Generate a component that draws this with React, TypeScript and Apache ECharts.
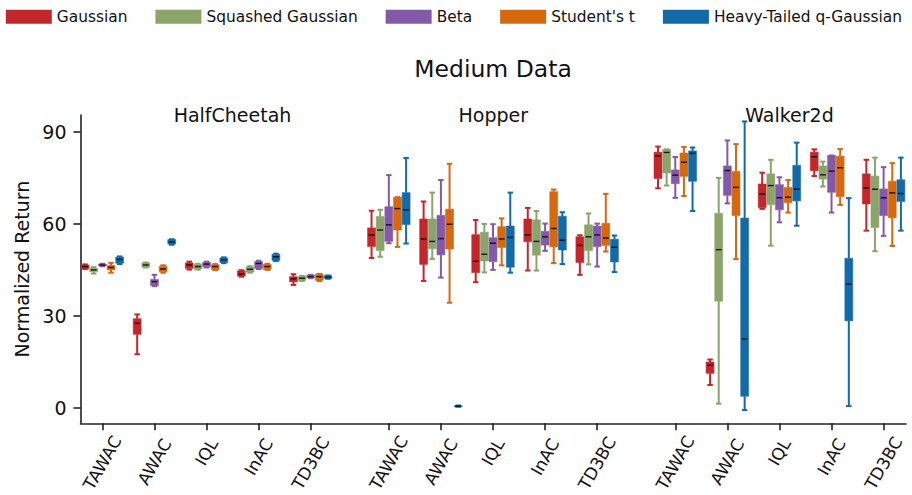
import React, { useEffect, useRef } from "react";
import * as echarts from "echarts";

// ---------- data ----------
const envNames = ["HalfCheetah", "Hopper", "Walker2d"];
const algorithms = ["TAWAC", "AWAC", "IQL", "InAC", "TD3BC"];
const distributions = ["Gaussian", "Squashed Gaussian", "Beta", "Student's t", "Heavy-Tailed q-Gaussian"];
const yTicks = [0, 30, 60, 90];

// each entry: [min, q1, median, q3, max]; order: HalfCheetah x5 algs, Hopper x5, Walker2d x5
const gaussian = [
  [45.2, 45.3, 46.0, 46.5, 46.7], [17.4, 23.9, 27.5, 29.0, 30.4], [45.0, 45.4, 46.5, 47.2, 47.6], [42.7, 42.9, 43.5, 44.6, 44.8], [40.0, 41.0, 42.0, 42.7, 43.5],
  [48.8, 52.5, 56.3, 58.6, 64.2], [41.3, 46.7, 55.0, 61.5, 67.2], [40.9, 44.0, 47.7, 56.4, 61.2], [44.7, 54.1, 56.3, 61.5, 65.1], [43.3, 47.3, 52.9, 55.7, 56.2],
  [71.5, 74.7, 82.1, 83.3, 85.1], [7.4, 11.2, 13.8, 14.9, 15.7], [64.8, 65.2, 69.6, 72.9, 76.6], [75.5, 77.2, 81.8, 83.3, 84.2], [57.7, 66.4, 71.6, 76.2, 80.8],
];
const squashedGaussian = [
  [43.7, 44.3, 44.9, 45.4, 45.8], [45.7, 45.8, 46.5, 47.2, 47.3], [45.0, 45.2, 46.0, 46.7, 46.9], [44.0, 44.2, 45.1, 45.9, 46.1], [41.3, 41.5, 42.2, 42.7, 42.9],
  [49.2, 51.2, 57.9, 62.3, 64.5], [48.5, 51.8, 54.2, 61.5, 70.1], [44.1, 47.8, 50.0, 57.2, 59.9], [44.7, 49.7, 54.2, 61.2, 64.1], [46.7, 51.2, 55.7, 59.6, 63.3],
  [72.4, 76.5, 83.2, 84.2, 84.2], [1.3, 34.7, 51.5, 63.3, 74.9], [52.8, 66.2, 72.4, 76.2, 80.8], [72.1, 74.5, 75.9, 78.8, 80.2], [51.0, 58.7, 71.2, 75.5, 81.5],
];
const beta = [
  [46.1, 46.2, 46.5, 46.8, 46.9], [39.6, 39.8, 41.1, 41.8, 43.3], [45.7, 45.9, 46.8, 47.4, 47.6], [45.2, 45.4, 47.0, 47.7, 47.9], [42.2, 42.3, 42.7, 43.2, 43.3],
  [53.6, 54.2, 59.6, 65.5, 75.8], [42.4, 49.8, 55.1, 62.7, 74.2], [44.9, 47.6, 53.6, 55.4, 59.8], [51.1, 53.0, 55.7, 57.5, 60.0], [46.0, 52.5, 56.3, 59.2, 60.0],
  [68.4, 73.0, 75.8, 77.5, 81.7], [66.6, 69.2, 77.3, 78.8, 87.1], [60.4, 64.5, 68.4, 72.7, 75.1], [63.6, 70.2, 77.1, 82.2, 82.2], [56.0, 62.6, 68.4, 71.3, 78.4],
];
const studentT = [
  [44.0, 44.9, 45.7, 46.4, 47.2], [44.0, 44.3, 45.2, 46.1, 46.4], [44.8, 45.0, 46.0, 46.6, 46.8], [44.9, 45.1, 46.0, 46.7, 46.9], [41.3, 41.5, 42.7, 43.5, 43.6],
  [52.4, 57.9, 64.9, 68.6, 68.6], [34.2, 51.7, 59.8, 64.7, 79.5], [46.4, 52.2, 55.0, 59.0, 61.7], [47.1, 52.4, 58.4, 70.4, 71.1], [50.9, 52.9, 55.3, 60.1, 69.7],
  [69.0, 75.4, 80.0, 83.0, 85.0], [48.4, 62.6, 71.8, 77.0, 85.9], [63.6, 66.8, 68.6, 71.8, 74.2], [66.1, 68.8, 78.2, 82.0, 84.3], [52.7, 61.9, 70.0, 73.8, 79.7],
];
const qGaussian = [
  [46.8, 47.1, 48.3, 49.1, 49.3], [53.1, 53.3, 54.0, 54.8, 54.9], [47.1, 47.3, 48.2, 48.8, 49.0], [47.8, 48.0, 49.2, 50.0, 50.2], [42.0, 42.1, 42.5, 43.0, 43.1],
  [53.5, 59.7, 64.5, 70.1, 81.4], [0.3, 0.4, 0.5, 0.6, 0.7], [44.0, 45.8, 55.5, 59.2, 70.1], [46.8, 51.4, 54.6, 62.4, 63.7], [44.2, 47.5, 52.3, 54.9, 56.1],
  [64.1, 73.8, 82.9, 83.7, 84.8], [-0.8, 3.7, 22.4, 61.8, 93.3], [59.3, 67.4, 71.2, 79.0, 86.4], [0.5, 28.3, 40.2, 48.7, 68.3], [57.7, 67.2, 69.8, 74.3, 81.5],
];
const seriesData = [gaussian, squashedGaussian, beta, studentT, qGaussian];

// ---------- styling / layout ----------
const COLORS = ["#C3272B", "#8AA46A", "#8559A9", "#D6680E", "#136AA9"];
const FONT = "DejaVu Sans";
const TEXT = "#111111";
const AXIS = "#222222";
const GROUP_STEP = 5.5;
const DODGE = 0.166;
const BOX_W = 0.152;
const CAP_W = 0.105;
const LABEL_MARGINS = [39.5, 38.5, 28.7, 33.6, 39.8];

const groupPos = (i: number) => Math.floor(i / 5) * GROUP_STEP + (i % 5);
const tickPositions = Array.from({ length: 15 }, (_, i) => groupPos(i));

function hexToRgba(hex: string, a: number) {
  const n = parseInt(hex.slice(1), 16);
  return `rgba(${(n >> 16) & 255},${(n >> 8) & 255},${n & 255},${a})`;
}

export default function App() {
  const ref = useRef<HTMLDivElement>(null);
  useEffect(() => {
    if (!ref.current) return;
    const chart = echarts.init(ref.current, undefined, { renderer: "svg" });

    const series = distributions.map((name, s) => ({
      name,
      type: "custom",
      itemStyle: { color: COLORS[s] },
      encode: { x: 0, y: [1, 2, 3, 4, 5] },
      clip: false,
      data: seriesData[s].map((d, i) => [groupPos(i) + (s - 2) * DODGE, ...d]),
      renderItem: (params: any, api: any) => {
        const x = api.value(0);
        const lo = api.coord([x, api.value(1)]);
        const q1 = api.coord([x, api.value(2)]);
        const med = api.coord([x, api.value(3)]);
        const q3 = api.coord([x, api.value(4)]);
        const hi = api.coord([x, api.value(5)]);
        const cx = lo[0];
        const hw = api.size([BOX_W, 0])[0] / 2;
        const cw = api.size([CAP_W, 0])[0] / 2;
        const color = COLORS[s];
        const lineStyle = { stroke: color, lineWidth: 2 };
        return {
          type: "group",
          children: [
            { type: "line", shape: { x1: cx, y1: hi[1], x2: cx, y2: q3[1] }, style: lineStyle },
            { type: "line", shape: { x1: cx, y1: q1[1], x2: cx, y2: lo[1] }, style: lineStyle },
            { type: "line", shape: { x1: cx - cw, y1: hi[1], x2: cx + cw, y2: hi[1] }, style: lineStyle },
            { type: "line", shape: { x1: cx - cw, y1: lo[1], x2: cx + cw, y2: lo[1] }, style: lineStyle },
            {
              type: "rect",
              shape: { x: cx - hw, y: q3[1], width: hw * 2, height: Math.max(q1[1] - q3[1], 1) },
              style: { fill: color, stroke: hexToRgba(color, 0.55), lineWidth: 1 },
            },
            {
              type: "line",
              shape: { x1: cx - hw + 1, y1: med[1], x2: cx + hw - 1, y2: med[1] },
              style: { stroke: "rgba(0,0,0,0.85)", lineWidth: 1.4 },
            },
          ],
        };
      },
    }));

    const xMin = -0.42;
    const xMax = 15.43;

    const labelAxes = algorithms.map((alg, a) => ({
      type: "value",
      gridIndex: 0,
      position: "bottom",
      min: xMin,
      max: xMax,
      axisLine: { show: false, onZero: false },
      axisTick: { show: false },
      splitLine: { show: false },
      axisLabel: {
        show: true,
        customValues: envNames.map((_, e) => e * GROUP_STEP + a),
        formatter: () => alg,
        rotate: 60,
        align: "center",
        verticalAlign: "middle",
        margin: LABEL_MARGINS[a],
        fontSize: 17,
        fontFamily: FONT,
        color: TEXT,
      },
    }));

    const envCenters = [232.5, 493.3, 789.5];

    chart.setOption({
      animation: false,
      color: COLORS,
      textStyle: { fontFamily: FONT },
      title: [
        {
          text: "Medium Data",
          left: 493,
          top: 56.5,
          padding: 0,
          textAlign: "center",
          textStyle: { fontSize: 23.5, fontWeight: "normal", fontFamily: FONT, color: TEXT },
        },
        ...envNames.map((env, e) => ({
          text: env,
          left: envCenters[e],
          top: 105.5,
          padding: 0,
          textAlign: "center",
          textStyle: { fontSize: 19, fontWeight: "normal", fontFamily: FONT, color: TEXT },
        })),
      ],
      legend: {
        data: distributions,
        left: 5.8,
        top: 9.3,
        padding: 0,
        icon: "rect",
        itemWidth: 46,
        itemHeight: 14,
        itemGap: 28,
        textStyle: { fontSize: 15.4, fontFamily: FONT, color: TEXT },
      },
      grid: { left: 80.5, right: 6, top: 115, bottom: 71.7, containLabel: false, outerBoundsMode: "none" },
      xAxis: [
        {
          type: "value",
          min: xMin,
          max: xMax,
          axisLine: { show: true, onZero: false, lineStyle: { color: AXIS, width: 1.6 } },
          axisTick: { show: true, customValues: tickPositions, length: 7, lineStyle: { color: AXIS, width: 1.6 } },
          axisLabel: { show: false },
          splitLine: { show: false },
        },
        ...labelAxes,
      ],
      yAxis: {
        type: "value",
        min: -5.1,
        max: 95.4,
        name: "Normalized Return",
        nameLocation: "middle",
        nameGap: 47,
        nameTextStyle: { fontSize: 19, fontFamily: FONT, color: TEXT },
        axisLine: { show: true, onZero: false, lineStyle: { color: AXIS, width: 1.6 } },
        axisTick: { show: true, customValues: yTicks, length: 7, lineStyle: { color: AXIS, width: 1.6 } },
        axisLabel: { customValues: yTicks, fontSize: 19, margin: 14, fontFamily: FONT, color: TEXT },
        splitLine: { show: false },
      },
      series,
    });

    return () => chart.dispose();
  }, []);

  return <div ref={ref} style={{ width: 912, height: 495, position: "absolute", left: 0, top: 0 }} />;
}
